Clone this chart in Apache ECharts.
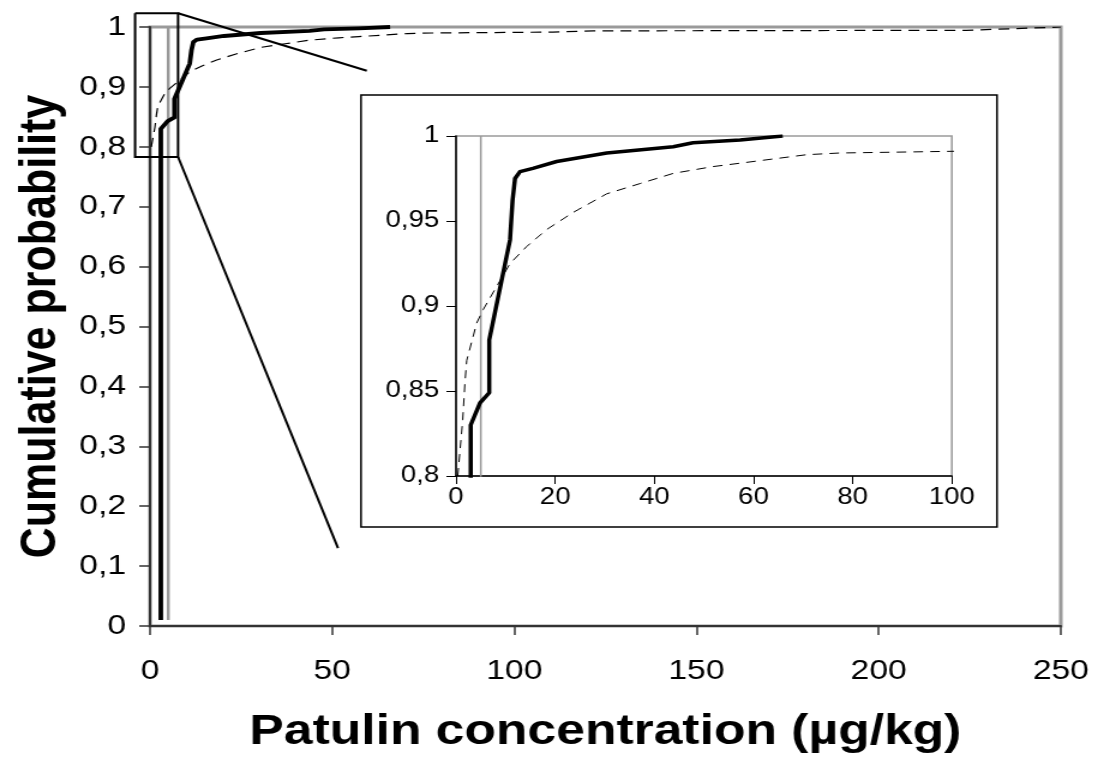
<!DOCTYPE html>
<html><head><meta charset="utf-8">
<script src="https://cdn.jsdelivr.net/npm/echarts@6/dist/echarts.min.js"></script>
<style>
html,body{margin:0;padding:0;background:#fff;overflow:hidden}
#wrap{width:1097px;height:761px;overflow:hidden;position:relative}
#c{height:761px;transform-origin:0 0;position:absolute;left:0;top:0}
</style></head>
<body><div id="wrap"><div id="c"></div></div>
<script>
// ---- data ----
const empX = [2.96, 2.96, 4.84, 6.7, 6.7, 10.9, 11.4, 11.9, 12.9, 15.5, 20.3, 30.4, 43.8, 47.8, 57.3, 65.9];
const empY = [0.01, 0.830, 0.843, 0.849, 0.880, 0.939, 0.962, 0.975, 0.979, 0.981, 0.985, 0.990, 0.9937, 0.996, 0.9976, 1.0];
const fitX = [0.35, 1.35, 1.8, 2.16, 4.17, 5.5, 8.9, 10.9, 14.25, 18.3, 23.6, 30.4, 37.1, 43.8, 51.8, 57.3, 70.7, 77.4, 100.2, 110.6, 121.7, 224, 250];
const fitY = [0.800, 0.833, 0.855, 0.868, 0.890, 0.898, 0.915, 0.925, 0.935, 0.945, 0.955, 0.966, 0.972, 0.978, 0.982, 0.984, 0.989, 0.990, 0.991, 0.9915, 0.9935, 0.9945, 1.0];
const limitX = [5, 5];
const limitY = [0.01, 1];
// zoom-box annotation (main chart data coordinates)
const boxX = [-4.1, 7.7, 7.7, -4.1, -4.1];
const boxY = [1.023, 1.023, 0.783, 0.783, 1.023];
const conn1X = [7.7, 59.5], conn1Y = [1.023, 0.927];
const conn2X = [7.7, 51.6], conn2Y = [0.783, 0.130];
// tick labels
const mainXLabels = ['0', '50', '100', '150', '200', '250'];
const mainYLabels = ['0', '0,1', '0,2', '0,3', '0,4', '0,5', '0,6', '0,7', '0,8', '0,9', '1'];
const insetXLabels = ['0', '20', '40', '60', '80', '100'];
const insetYLabels = ['0,8', '0,85', '0,9', '0,95', '1'];
const xTitle = 'Patulin concentration (µg/kg)';
const yTitle = 'Cumulative probability';

// ---- layout ----
const S = 1.2; // horizontal stretch of the reference
const W = 1097 / S;
const X = px => px / S;
const el = document.getElementById('c');
el.style.width = W + 'px';
el.style.transform = 'scaleX(' + S + ')';

const zip = (a, b) => a.map((v, i) => [v, b[i]]);
const FONT = "'Liberation Sans', Arial, sans-serif";

const chart = echarts.init(el, null, {renderer: 'canvas'});
chart.setOption({
  animation: false,
  backgroundColor: '#fff',
  grid: [
    {left: X(150), right: (1097 - 1061) / S, top: 27, bottom: 761 - 626,
     show: true, borderColor: '#9a9a9a', borderWidth: 3, backgroundColor: 'transparent'},
    {left: X(456), right: (1097 - 952) / S, top: 136, bottom: 761 - 476,
     show: true, borderColor: '#9a9a9a', borderWidth: 1.5, backgroundColor: '#fff'}
  ],
  xAxis: [
    {gridIndex: 0, type: 'value', min: 0, max: 250, interval: 50,
     axisLine: {show: true, onZero: false, lineStyle: {color: '#333', width: 2}},
     axisTick: {show: true, length: 9, lineStyle: {color: '#333', width: 1.5}},
     splitLine: {show: false},
     axisLabel: {color: '#000', fontSize: 28, fontFamily: FONT, margin: 31,
                 formatter: (v, i) => mainXLabels[i]},
     name: xTitle, nameLocation: 'middle', nameGap: 85,
     nameTextStyle: {fontSize: 43, fontWeight: 'bold', fontFamily: FONT, color: '#000'}},
    {gridIndex: 1, type: 'value', min: 0, max: 100, interval: 20,
     axisLine: {show: true, onZero: false, lineStyle: {color: '#000', width: 1.5}},
     axisTick: {show: true, length: 8, lineStyle: {color: '#000', width: 1}},
     splitLine: {show: false},
     axisLabel: {color: '#000', fontSize: 23, fontFamily: FONT, margin: 10,
                 formatter: (v, i) => insetXLabels[i]}}
  ],
  yAxis: [
    {gridIndex: 0, type: 'value', min: 0, max: 1, interval: 0.1,
     axisLine: {show: true, onZero: false, lineStyle: {color: '#333', width: 2}},
     axisTick: {show: true, length: 9, lineStyle: {color: '#333', width: 1.5}},
     splitLine: {show: false},
     axisLabel: {color: '#000', fontSize: 28, fontFamily: FONT, margin: 20,
                 formatter: (v, i) => mainYLabels[i]},
     name: yTitle, nameLocation: 'middle', nameRotate: 90, nameGap: 63,
     nameTextStyle: {fontSize: 43, fontWeight: 'bold', fontFamily: FONT, color: '#000'}},
    {gridIndex: 1, type: 'value', min: 0.8, max: 1, interval: 0.05,
     axisLine: {show: true, onZero: false, lineStyle: {color: '#000', width: 1.5}},
     axisTick: {show: true, length: 8, lineStyle: {color: '#000', width: 1}},
     splitLine: {show: false},
     axisLabel: {color: '#000', fontSize: 23, fontFamily: FONT, margin: 14,
                 formatter: (v, i) => insetYLabels[i]}}
  ],
  series: [
    {type: 'line', xAxisIndex: 0, yAxisIndex: 0, data: zip(limitX, limitY), symbol: 'none',
     lineStyle: {color: '#999', width: 2.5}, z: 2},
    {type: 'line', xAxisIndex: 0, yAxisIndex: 0, data: zip(fitX, fitY), symbol: 'none',
     lineStyle: {color: '#000', width: 1.2, type: [9, 6]}, z: 3},
    {type: 'line', xAxisIndex: 0, yAxisIndex: 0, data: zip(empX, empY), symbol: 'none',
     lineStyle: {color: '#000', width: 3.8, join: 'round'}, z: 4},
    {type: 'line', xAxisIndex: 1, yAxisIndex: 1, data: zip(limitX, limitY), symbol: 'none',
     lineStyle: {color: '#999', width: 1.5}, z: 6},
    {type: 'line', xAxisIndex: 1, yAxisIndex: 1, data: zip(fitX, fitY), symbol: 'none',
     lineStyle: {color: '#000', width: 1, type: [8, 6]}, z: 7},
    {type: 'line', xAxisIndex: 1, yAxisIndex: 1, data: zip(empX, empY), symbol: 'none',
     lineStyle: {color: '#000', width: 3.5, join: 'round'}, z: 8}
  ]
});

// annotation: zoom box + connector lines, positioned through the main grid's scales
const toPx = (xs, ys) => xs.map((x, i) => chart.convertToPixel({gridIndex: 0}, [x, ys[i]]));
chart.setOption({
  graphic: [
    {type: 'rect', z: 1, silent: true,
     shape: {x: X(361), y: 95, width: (997 - 361) / S, height: 527 - 95},
     style: {stroke: '#000', lineWidth: 1.5, fill: null}},
    {type: 'polyline', z: 20, silent: true, shape: {points: toPx(boxX, boxY)},
     style: {stroke: '#000', lineWidth: 2, fill: null}},
    {type: 'polyline', z: 20, silent: true, shape: {points: toPx(conn1X, conn1Y)},
     style: {stroke: '#000', lineWidth: 2, fill: null}},
    {type: 'polyline', z: 20, silent: true, shape: {points: toPx(conn2X, conn2Y)},
     style: {stroke: '#000', lineWidth: 2, fill: null}}
  ]
});
</script>
</body></html>
